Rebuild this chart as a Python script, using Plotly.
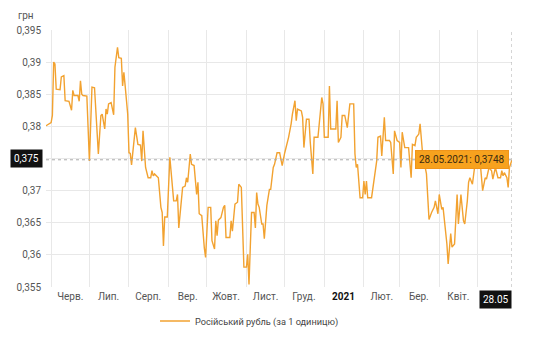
import plotly.graph_objects as go

dates = [
    "2020-05-28", "2020-05-31", "2020-06-01", "2020-06-02", "2020-06-03", "2020-06-04",
    "2020-06-05", "2020-06-08", "2020-06-09", "2020-06-11", "2020-06-12", "2020-06-15",
    "2020-06-17", "2020-06-18", "2020-06-19", "2020-06-22", "2020-06-23", "2020-06-24",
    "2020-06-25", "2020-06-26", "2020-06-29", "2020-07-01", "2020-07-03", "2020-07-05",
    "2020-07-06", "2020-07-08", "2020-07-10", "2020-07-11", "2020-07-13", "2020-07-14",
    "2020-07-15", "2020-07-16", "2020-07-18", "2020-07-20", "2020-07-21", "2020-07-23",
    "2020-07-24", "2020-07-26", "2020-07-27", "2020-07-28", "2020-07-29", "2020-07-31",
    "2020-08-01", "2020-08-02", "2020-08-03", "2020-08-06", "2020-08-08", "2020-08-10",
    "2020-08-11", "2020-08-12", "2020-08-14", "2020-08-16", "2020-08-18", "2020-08-19",
    "2020-08-20", "2020-08-21", "2020-08-24", "2020-08-26", "2020-08-27", "2020-08-28",
    "2020-08-29", "2020-08-31", "2020-09-02", "2020-09-04", "2020-09-05", "2020-09-07",
    "2020-09-08", "2020-09-09", "2020-09-12", "2020-09-14", "2020-09-15", "2020-09-16",
    "2020-09-18", "2020-09-19", "2020-09-21", "2020-09-23", "2020-09-24", "2020-09-25",
    "2020-09-27", "2020-09-29", "2020-09-30", "2020-10-02", "2020-10-04", "2020-10-05",
    "2020-10-07", "2020-10-08", "2020-10-09", "2020-10-10", "2020-10-12", "2020-10-14",
    "2020-10-15", "2020-10-16", "2020-10-19", "2020-10-20", "2020-10-21", "2020-10-23",
    "2020-10-25", "2020-10-26", "2020-10-28", "2020-10-30", "2020-11-01", "2020-11-02",
    "2020-11-03", "2020-11-04", "2020-11-05", "2020-11-07", "2020-11-08", "2020-11-09",
    "2020-11-10", "2020-11-11", "2020-11-13", "2020-11-14", "2020-11-15", "2020-11-17",
    "2020-11-19", "2020-11-20", "2020-11-22", "2020-11-23", "2020-11-25", "2020-11-27",
    "2020-11-29", "2020-12-01", "2020-12-02", "2020-12-04", "2020-12-06", "2020-12-07",
    "2020-12-09", "2020-12-10", "2020-12-11", "2020-12-14", "2020-12-15", "2020-12-16",
    "2020-12-18", "2020-12-20", "2020-12-21", "2020-12-23", "2020-12-24", "2020-12-27",
    "2020-12-30", "2020-12-31", "2021-01-01", "2021-01-04", "2021-01-05", "2021-01-06",
    "2021-01-10", "2021-01-11", "2021-01-12", "2021-01-14", "2021-01-15", "2021-01-17",
    "2021-01-19", "2021-01-21", "2021-01-24", "2021-01-25", "2021-01-26", "2021-01-27",
    "2021-01-29", "2021-01-31", "2021-02-01", "2021-02-02", "2021-02-03", "2021-02-04",
    "2021-02-07", "2021-02-09", "2021-02-11", "2021-02-12", "2021-02-14", "2021-02-15",
    "2021-02-17", "2021-02-18", "2021-02-21", "2021-02-22", "2021-02-24", "2021-02-25",
    "2021-02-27", "2021-03-01", "2021-03-02", "2021-03-03", "2021-03-05", "2021-03-08",
    "2021-03-10", "2021-03-11", "2021-03-13", "2021-03-14", "2021-03-16", "2021-03-17",
    "2021-03-19", "2021-03-22", "2021-03-24", "2021-03-26", "2021-03-28", "2021-03-29",
    "2021-03-31", "2021-04-01", "2021-04-03", "2021-04-04", "2021-04-06", "2021-04-07",
    "2021-04-08", "2021-04-10", "2021-04-11", "2021-04-13", "2021-04-15", "2021-04-16",
    "2021-04-18", "2021-04-20", "2021-04-21", "2021-04-23", "2021-04-24", "2021-04-25",
    "2021-04-27", "2021-04-28", "2021-04-29", "2021-05-01", "2021-05-03", "2021-05-05",
    "2021-05-07", "2021-05-08", "2021-05-10", "2021-05-12", "2021-05-13", "2021-05-15",
    "2021-05-17", "2021-05-19", "2021-05-20", "2021-05-21", "2021-05-22", "2021-05-24",
    "2021-05-25", "2021-05-26", "2021-05-27", "2021-05-28",
]

rates = [
    0.3801, 0.3804, 0.3806, 0.3817, 0.3900, 0.3897,
    0.3858, 0.3857, 0.3877, 0.3879, 0.3840, 0.3839,
    0.3825, 0.3856, 0.3848, 0.3848, 0.3839, 0.3871,
    0.3850, 0.3848, 0.3847, 0.3746, 0.3861, 0.3860,
    0.3824, 0.3757, 0.3817, 0.3819, 0.3796, 0.3827,
    0.3819, 0.3835, 0.3837, 0.3818, 0.3892, 0.3923,
    0.3907, 0.3906, 0.3863, 0.3884, 0.3863, 0.3819,
    0.3759, 0.3758, 0.3740, 0.3798, 0.3772, 0.3771,
    0.3746, 0.3793, 0.3736, 0.3720, 0.3720, 0.3731,
    0.3723, 0.3726, 0.3720, 0.3674, 0.3666, 0.3614,
    0.3659, 0.3659, 0.3752, 0.3710, 0.3684, 0.3684,
    0.3694, 0.3642, 0.3705, 0.3707, 0.3720, 0.3713,
    0.3757, 0.3741, 0.3739, 0.3694, 0.3713, 0.3664,
    0.3661, 0.3611, 0.3596, 0.3674, 0.3674, 0.3622,
    0.3609, 0.3653, 0.3630, 0.3654, 0.3658, 0.3674,
    0.3677, 0.3627, 0.3627, 0.3653, 0.3637, 0.3679,
    0.3682, 0.3710, 0.3705, 0.3581, 0.3581, 0.3601,
    0.3554, 0.3611, 0.3666, 0.3666, 0.3642, 0.3697,
    0.3679, 0.3674, 0.3648, 0.3648, 0.3625, 0.3677,
    0.3702, 0.3702, 0.3736, 0.3741, 0.3759, 0.3759,
    0.3739, 0.3759, 0.3767, 0.3783, 0.3804, 0.3819,
    0.3840, 0.3809, 0.3827, 0.3824, 0.3814, 0.3767,
    0.3811, 0.3811, 0.3775, 0.3726, 0.3783, 0.3783,
    0.3845, 0.3835, 0.3783, 0.3783, 0.3863, 0.3796,
    0.3796, 0.3840, 0.3775, 0.3783, 0.3817, 0.3817,
    0.3798, 0.3835, 0.3835, 0.3757, 0.3736, 0.3741,
    0.3689, 0.3689, 0.3715, 0.3694, 0.3715, 0.3689,
    0.3689, 0.3718, 0.3746, 0.3783, 0.3785, 0.3754,
    0.3814, 0.3778, 0.3778, 0.3775, 0.3726, 0.3793,
    0.3778, 0.3775, 0.3736, 0.3791, 0.3767, 0.3767,
    0.3720, 0.3772, 0.3770, 0.3783, 0.3788, 0.3804,
    0.3757, 0.3726, 0.3655, 0.3666, 0.3674, 0.3684,
    0.3664, 0.3694, 0.3671, 0.3674, 0.3642, 0.3617,
    0.3586, 0.3633, 0.3612, 0.3617, 0.3694, 0.3648,
    0.3694, 0.3653, 0.3648, 0.3684, 0.3713, 0.3720,
    0.3710, 0.3726, 0.3741, 0.3735, 0.3746, 0.3700,
    0.3720, 0.3718, 0.3736, 0.3731, 0.3718, 0.3736,
    0.3720, 0.3720, 0.3731, 0.3723, 0.3728, 0.3720,
    0.3705, 0.3736, 0.3742, 0.3748,
]

month_starts = ["2020-06-01", "2020-07-01", "2020-08-01", "2020-09-01", "2020-10-01",
                "2020-11-01", "2020-12-01", "2021-01-01", "2021-02-01", "2021-03-01",
                "2021-04-01", "2021-05-01"]
label_dates = ["2020-06-16", "2020-07-16", "2020-08-16", "2020-09-16", "2020-10-16",
               "2020-11-16", "2020-12-16", "2021-01-16", "2021-02-15", "2021-03-16",
               "2021-04-16"]
label_texts = ["Черв.", "Лип.", "Серп.", "Вер.", "Жовт.", "Лист.", "Груд.",
               "<b style='color:#111'>2021</b>", "Лют.", "Бер.", "Квіт."]
y_ticks = [0.355, 0.36, 0.365, 0.37, 0.375, 0.38, 0.385, 0.39, 0.395]
y_labels = ["0,355", "0,36", "0,365", "0,37", "", "0,38", "0,385", "0,39", "0,395"]

series_name = "Російський рубль (за 1 одиницю)"
LINE = "#F2A230"
FONT = "Roboto, Arial, sans-serif"
TXT = "#555555"

fig = go.Figure()
fig.add_trace(go.Scatter(
    x=dates, y=rates, mode="lines", name=series_name,
    line=dict(color=LINE, width=1.4),
))

last_x, last_y = dates[-1], rates[-1]

fig.update_layout(
    width=539, height=350,
    margin=dict(l=46, r=27, t=30, b=63, autoexpand=False),
    paper_bgcolor="white", plot_bgcolor="white",
    font=dict(family=FONT, size=10, color=TXT),
    showlegend=True,
    legend=dict(orientation="h", x=0.2876, xref="container", xanchor="left",
                y=0.083, yref="container", yanchor="middle",
                font=dict(size=9.2, color="#444"), itemwidth=30),
    xaxis=dict(
        range=[dates[0], dates[-1]], type="date",
        tickmode="array", tickvals=label_dates, ticktext=label_texts,
        showgrid=False, zeroline=False, showline=False, ticks="",
        tickfont=dict(size=10, color=TXT), ticklabelstandoff=2,
        minor=dict(tickmode="array", tickvals=month_starts, showgrid=True,
                   gridcolor="#e8e8e8", gridwidth=1, ticks=""),
    ),
    yaxis=dict(
        range=[0.355, 0.395], tickmode="array", tickvals=y_ticks, ticktext=y_labels,
        showgrid=True, gridcolor="#e8e8e8", gridwidth=1, zeroline=False,
        showline=False, ticks="", tickfont=dict(size=10, color=TXT),
        ticklabelstandoff=4,
    ),
)

# crosshair
fig.add_shape(type="line", xref="paper", yref="y", x0=0, x1=1, y0=last_y, y1=last_y,
              line=dict(color="#aaaaaa", width=1, dash="dot"))
fig.add_shape(type="line", xref="x", yref="paper", x0=last_x, x1=last_x, y0=0, y1=1,
              line=dict(color="#aaaaaa", width=1, dash="dot"))

# axis unit
fig.add_annotation(text="грн", xref="paper", yref="paper", x=-0.043, y=1.058,
                   xanchor="center", yanchor="middle", showarrow=False,
                   font=dict(size=10, color=TXT))
# y crosshair label
fig.add_annotation(text="0,375", xref="paper", yref="y", x=-0.006, y=0.375,
                   xanchor="right", yanchor="middle", showarrow=False,
                   bgcolor="#111111", font=dict(size=10, color="white"),
                   borderpad=3)
# x crosshair label
fig.add_annotation(text="28.05", xref="x", yref="paper", x=last_x, y=-0.01,
                   xanchor="right", yanchor="top", showarrow=False,
                   bgcolor="#111111", font=dict(size=10, color="white"),
                   borderpad=3)
# tooltip
fig.add_annotation(text="28.05.2021: 0,3748", xref="x", yref="y", x=last_x, y=last_y,
                   xanchor="right", yanchor="middle", xshift=-3, showarrow=False,
                   bgcolor="#F7A21E", bordercolor="#F0951A", borderwidth=1,
                   font=dict(size=10, color="#3a2a10"), borderpad=3)

fig.write_html("out.html")
